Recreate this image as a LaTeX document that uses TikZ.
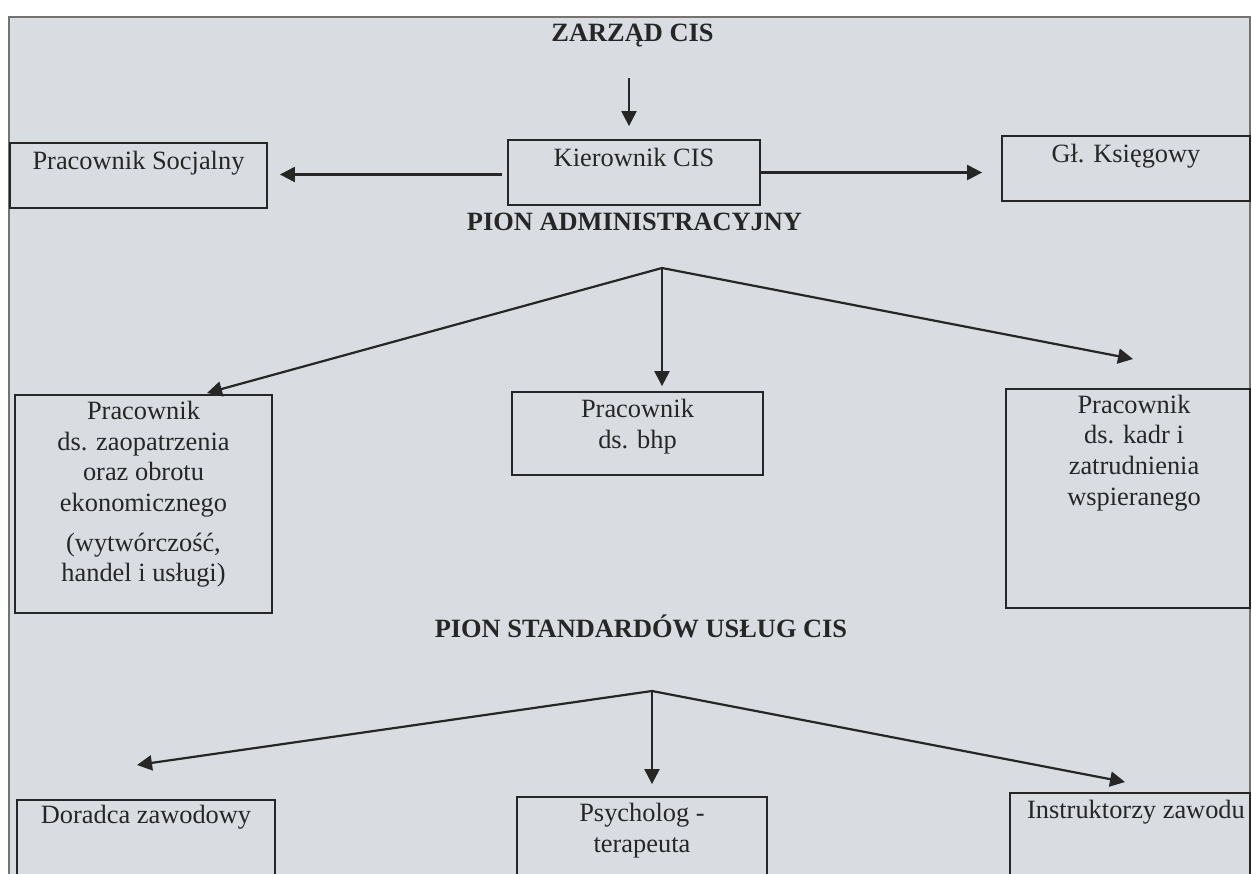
\documentclass[tikz,border=0pt]{standalone}
\usepackage{fontspec}
\setmainfont{Liberation Serif}
\usepackage{xcolor}
\usepackage{tikz}
\usetikzlibrary{arrows.meta}

\definecolor{scangrey}{RGB}{217,221,226}
\newcommand{\boxfont}{\fontsize{13.2}{15.3}\selectfont}

\tikzset{
    box/.style={draw=black!85, line width=0.9pt, inner sep=0pt},
    sz/.style 2 args={minimum width=#1*0.5pt, minimum height=#2*0.5pt},
    boxtext/.style={anchor=north, align=center, inner sep=0pt, text=black!85, font=\boxfont},
    heading/.style={anchor=base, inner sep=0pt, text=black!85, font=\boxfont\bfseries},
    arr/.style={draw=black!85, line width=1.1pt, -{Triangle[length=7.5pt,width=7.5pt]}}
}

\begin{document}
\begin{tikzpicture}[x=0.5pt,y=-0.5pt]
        \useasboundingbox (0,0) rectangle (1252,873);
        \clip (0,0) rectangle (1252,873);
        \draw[draw=black!55, line width=0.6pt, fill=scangrey] (9,17) rectangle (1250,900);

        % top level
        \node[heading] (zarzad) at (632.5,41) {ZARZĄD CIS};
        \node[box, sz={252}{65}] (kier) at (634,172.5) {};
        \node[box, sz={257}{65}] (soc) at (138.5,175.5) {};
        \node[box, sz={248}{65}] (ksieg) at (1126,168.5) {};
        \node[boxtext] (kierT) at ([yshift=-4.2pt]kier.north) {Kierownik CIS};
        \node[boxtext] (socT) at ([yshift=-4.2pt]soc.north) {Pracownik Socjalny};
        \node[boxtext] (ksiegT) at ([yshift=-4.2pt]ksieg.north) {Gł. Księgowy};
        \node[heading] (adm) at (634.5,230) {PION ADMINISTRACYJNY};

        % pion administracyjny
        \node[box, sz={257}{218}] (zaop) at (143.5,504) {};
        \node[box, sz={251}{83}] (bhp) at (637.5,433.5) {};
        \node[box, sz={244}{219}] (kadr) at (1128,498.5) {};
        \node[boxtext] (zaopT) at ([yshift=-3.4pt]zaop.north)
            {Pracownik\\ ds. zaopatrzenia\\ oraz obrotu\\ ekonomicznego\\[4.5pt] (wytwórczość,\\ handel i usługi)};
        \node[boxtext] (bhpT) at ([yshift=-3.8pt]bhp.north) {Pracownik\\ ds. bhp};
        \node[boxtext] (kadrT) at ([xshift=3pt,yshift=-3.2pt]kadr.north)
            {Pracownik\\ ds. kadr i\\ zatrudnienia\\ wspieranego};
        \node[heading] (std) at (641,637) {PION STANDARDÓW USŁUG CIS};

        % pion standardow
        \node[box, sz={258}{100}] (dor) at (146,850) {};
        \node[box, sz={250}{103}] (psych) at (642,848.5) {};
        \node[box, sz={240}{100}] (instr) at (1130,843) {};
        \node[boxtext] (dorT) at ([yshift=-3pt]dor.north) {Doradca zawodowy};
        \node[boxtext] (psychT) at ([yshift=-3.4pt]psych.north) {Psycholog -\\ terapeuta};
        \node[boxtext] (instrT) at ([xshift=3pt,yshift=-3.6pt]instr.north) {Instruktorzy zawodu};

        \coordinate (zTop) at (629,78);
        \coordinate (admFork) at (662,268);
        \coordinate (zaopTip) at (207,393);
        \coordinate (kadrTip) at (1133,359);
        \coordinate (stdFork) at (652,691);
        \coordinate (dorTip) at (137,765);
        \coordinate (instrTip) at (1125,782);

        % zarzad -> kier
        \draw[arr, shorten >=6.5pt] (zTop) -- (zTop |- kier.north);

        % kier -> soc, kier -> ksieg
        \draw[arr, shorten <=2.5pt, shorten >=6pt] ([yshift=-1pt]kier.west) -- ([yshift=-1pt]kier.west -| soc.east);
        \draw[arr, shorten >=9.5pt] (kier.east) -- (kier.east -| ksieg.west);

        % adm -> zaop, bhp, kadr
        \draw[arr] (admFork) -- (zaopTip);
        \draw[arr, shorten >=2.5pt] (admFork) -- (admFork |- bhp.north);
        \draw[arr] (admFork) -- (kadrTip);

        % std -> dor, psych, instr
        \draw[arr] (stdFork) -- (dorTip);
        \draw[arr, shorten >=6pt] (stdFork) -- (stdFork |- psych.north);
        \draw[arr] (stdFork) -- (instrTip);
    \end{tikzpicture}
\end{document}
